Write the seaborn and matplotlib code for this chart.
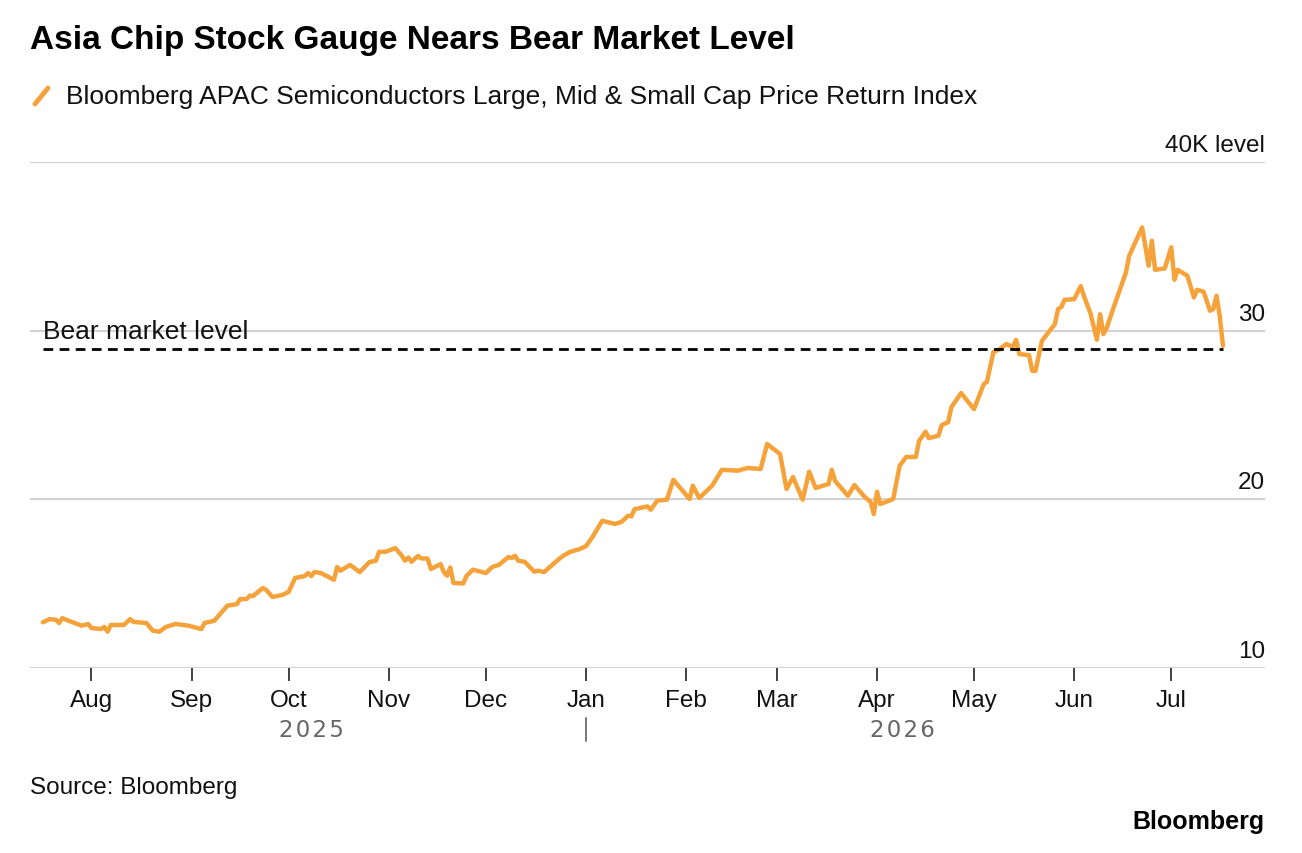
import numpy as np
import pandas as pd
import matplotlib
matplotlib.use("Agg")
import matplotlib.pyplot as plt
import matplotlib.dates as mdates
import matplotlib.transforms as mtransforms
import seaborn as sns

# --- data (index level, thousands) ---
dates = [
    "2025-07-17", "2025-07-19", "2025-07-21", "2025-07-22", "2025-07-23", "2025-07-25",
    "2025-07-29", "2025-07-31", "2025-08-01", "2025-08-04", "2025-08-05", "2025-08-06",
    "2025-08-07", "2025-08-11", "2025-08-13", "2025-08-14", "2025-08-18", "2025-08-20",
    "2025-08-22", "2025-08-24", "2025-08-27", "2025-08-31", "2025-09-04", "2025-09-05",
    "2025-09-08", "2025-09-12", "2025-09-15", "2025-09-16", "2025-09-18", "2025-09-19",
    "2025-09-20", "2025-09-23", "2025-09-24", "2025-09-26", "2025-09-29", "2025-10-01",
    "2025-10-03", "2025-10-06", "2025-10-07", "2025-10-08", "2025-10-09", "2025-10-11",
    "2025-10-15", "2025-10-16", "2025-10-17", "2025-10-20", "2025-10-23", "2025-10-26",
    "2025-10-28", "2025-10-29", "2025-10-31", "2025-11-03", "2025-11-05", "2025-11-06",
    "2025-11-07", "2025-11-08", "2025-11-10", "2025-11-11", "2025-11-13", "2025-11-14",
    "2025-11-17", "2025-11-18", "2025-11-19", "2025-11-20", "2025-11-21", "2025-11-24",
    "2025-11-25", "2025-11-27", "2025-12-01", "2025-12-03", "2025-12-05", "2025-12-08",
    "2025-12-09", "2025-12-10", "2025-12-11", "2025-12-13", "2025-12-16", "2025-12-17",
    "2025-12-19", "2025-12-24", "2025-12-25", "2025-12-27", "2025-12-30", "2026-01-01",
    "2026-01-03", "2026-01-06", "2026-01-10", "2026-01-12", "2026-01-14", "2026-01-15",
    "2026-01-16", "2026-01-20", "2026-01-21", "2026-01-23", "2026-01-26", "2026-01-28",
    "2026-02-02", "2026-02-03", "2026-02-05", "2026-02-09", "2026-02-12", "2026-02-17",
    "2026-02-20", "2026-02-24", "2026-02-26", "2026-03-02", "2026-03-04", "2026-03-06",
    "2026-03-09", "2026-03-11", "2026-03-13", "2026-03-17", "2026-03-18", "2026-03-19",
    "2026-03-23", "2026-03-25", "2026-03-28", "2026-03-30", "2026-03-31", "2026-04-01",
    "2026-04-02", "2026-04-06", "2026-04-08", "2026-04-10", "2026-04-13", "2026-04-14",
    "2026-04-16", "2026-04-17", "2026-04-20", "2026-04-21", "2026-04-23", "2026-04-24",
    "2026-04-27", "2026-05-01", "2026-05-04", "2026-05-05", "2026-05-07", "2026-05-09",
    "2026-05-11", "2026-05-13", "2026-05-14", "2026-05-15", "2026-05-18", "2026-05-19",
    "2026-05-20", "2026-05-22", "2026-05-24", "2026-05-26", "2026-05-27", "2026-05-28",
    "2026-05-29", "2026-06-01", "2026-06-03", "2026-06-04", "2026-06-06", "2026-06-08",
    "2026-06-09", "2026-06-10", "2026-06-11", "2026-06-13", "2026-06-17", "2026-06-18",
    "2026-06-22", "2026-06-24", "2026-06-25", "2026-06-26", "2026-06-29", "2026-07-01",
    "2026-07-02", "2026-07-03", "2026-07-06", "2026-07-08", "2026-07-09", "2026-07-11",
    "2026-07-13", "2026-07-14", "2026-07-15", "2026-07-16", "2026-07-17",
]
index_level = [
    12.71, 12.90, 12.86, 12.67, 12.96, 12.80,
    12.51, 12.61, 12.37, 12.31, 12.43, 12.15,
    12.55, 12.55, 12.90, 12.73, 12.67, 12.21,
    12.15, 12.43, 12.61, 12.51, 12.31, 12.67,
    12.80, 13.69, 13.79, 14.09, 14.09, 14.29,
    14.27, 14.74, 14.64, 14.21, 14.33, 14.51,
    15.34, 15.45, 15.63, 15.45, 15.69, 15.63,
    15.23, 15.99, 15.77, 16.11, 15.69, 16.28,
    16.36, 16.89, 16.89, 17.11, 16.66, 16.36,
    16.55, 16.30, 16.64, 16.50, 16.49, 15.87,
    16.16, 15.69, 15.47, 15.96, 15.04, 15.01,
    15.45, 15.83, 15.63, 15.99, 16.11, 16.58,
    16.52, 16.66, 16.36, 16.30, 15.71, 15.77,
    15.69, 16.52, 16.66, 16.88, 17.05, 17.23,
    17.77, 18.73, 18.54, 18.67, 19.03, 18.99,
    19.42, 19.58, 19.38, 19.92, 19.98, 21.16,
    20.02, 20.81, 20.08, 20.81, 21.75, 21.70,
    21.86, 21.80, 23.28, 22.69, 20.61, 21.32,
    19.98, 21.64, 20.67, 20.91, 21.75, 21.10,
    20.21, 20.85, 20.18, 19.84, 19.13, 20.45,
    19.72, 20.02, 21.99, 22.51, 22.51, 23.47,
    24.01, 23.63, 23.77, 24.40, 24.58, 25.47,
    26.30, 25.35, 26.83, 26.97, 28.73, 28.91,
    29.21, 29.03, 29.46, 28.61, 28.55, 27.62,
    27.62, 29.40, 29.90, 30.39, 31.28, 31.40,
    31.83, 31.87, 32.64, 32.05, 31.04, 29.46,
    30.98, 29.80, 30.14, 31.28, 33.46, 34.44,
    36.12, 33.85, 35.33, 33.61, 33.69, 34.94,
    33.02, 33.61, 33.25, 31.97, 32.42, 32.31,
    31.18, 31.28, 32.07, 30.88, 29.10,
]
bear_level = 28.9   # 20% below the June peak
y_ticks = [10, 20, 30, 40]
y_tick_labels = ["10", "20", "30", "40K level"]
year_labels = [("2025-10-08", "2025"), ("2026-04-09", "2026")]

df = pd.DataFrame({"date": pd.to_datetime(dates), "level": index_level})

ORANGE = "#F6A23A"
GRID = "#D3D3D3"
FONT = "Liberation Sans"

sns.set_theme(style="white")
plt.rcParams["font.family"] = [FONT, "DejaVu Sans"]

fig = plt.figure(figsize=(13.02, 8.54), dpi=100)
ax = fig.add_axes([30 / 1302, 1 - 669 / 854, 1235 / 1302, 506 / 854])

sns.lineplot(data=df, x="date", y="level", ax=ax, color=ORANGE, linewidth=3.2,
             solid_joinstyle="round", zorder=3)

# bear market dashed level
ax.plot([df["date"].iloc[0], df["date"].iloc[-1]], [bear_level, bear_level],
        color="black", linestyle=(0, (3.5, 2.3)), linewidth=2.0, zorder=4)
ax.text(pd.Timestamp("2025-07-17"), 30, "Bear market level", fontsize=19,
        color="#111111", va="center", ha="left", zorder=2)

ax.set_xlim(pd.Timestamp("2025-07-13"), pd.Timestamp("2026-07-30"))
ax.set_ylim(10, 40)

ax.set_yticks(y_ticks)
ax.tick_params(axis="y", length=0, labelleft=False, labelright=False)
ax.yaxis.grid(True, color=GRID, linewidth=1.6)
ax.xaxis.grid(False)
for s in ax.spines.values():
    s.set_visible(False)

# right-side labels sitting above the gridlines
ylab_trans = (mtransforms.blended_transform_factory(ax.transAxes, ax.transData)
              + mtransforms.ScaledTranslation(0, 6 / 100, fig.dpi_scale_trans))
for v, lab in zip(y_ticks, y_tick_labels):
    ax.text(1.0, v, lab, transform=ylab_trans, ha="right", va="bottom", fontsize=17.5,
            color="#111111")

ax.xaxis.set_major_locator(mdates.MonthLocator())
ax.xaxis.set_major_formatter(mdates.DateFormatter("%b"))
ax.tick_params(axis="x", direction="out", length=9, width=1.3, color="#333333",
               labelsize=17.5, labelcolor="#111111", pad=6, bottom=True)
ax.set_xlabel("")
ax.set_ylabel("")

# year labels under month names
xtrans = mtransforms.blended_transform_factory(ax.transData, ax.transAxes)
for day, yr in year_labels:
    ax.text(pd.Timestamp(day), -0.122, "\u200a".join(yr), transform=xtrans,
            ha="center", va="center", fontsize=16.5, color="#666666",
            family=["DejaVu Sans"])
ax.plot([pd.Timestamp("2026-01-01")] * 2, [-0.098, -0.145], transform=xtrans,
        color="#777777", linewidth=1.4, clip_on=False)

# header
fig.text(30 / 1302, 1 - 41 / 854, "Asia Chip Stock Gauge Nears Bear Market Level",
         fontsize=24, fontweight="bold", color="black", va="center", ha="left")
fig.lines.append(plt.Line2D([35 / 1302, 48 / 1302], [1 - 105 / 854, 1 - 89 / 854],
                            transform=fig.transFigure, color=ORANGE, linewidth=3.5,
                            solid_capstyle="round"))
fig.text(66 / 1302, 1 - 97 / 854,
         "Bloomberg APAC Semiconductors Large, Mid & Small Cap Price Return Index",
         fontsize=19, color="#111111", va="center", ha="left")

# footer
fig.text(30 / 1302, 1 - 788 / 854, "Source: Bloomberg", fontsize=17.5,
         color="#111111", va="center", ha="left")
fig.text(1265 / 1302, 1 - 822 / 854, "Bloomberg", fontsize=18, fontweight="bold",
         color="black", va="center", ha="right")

fig.savefig("out.png", dpi=100, facecolor="white")
